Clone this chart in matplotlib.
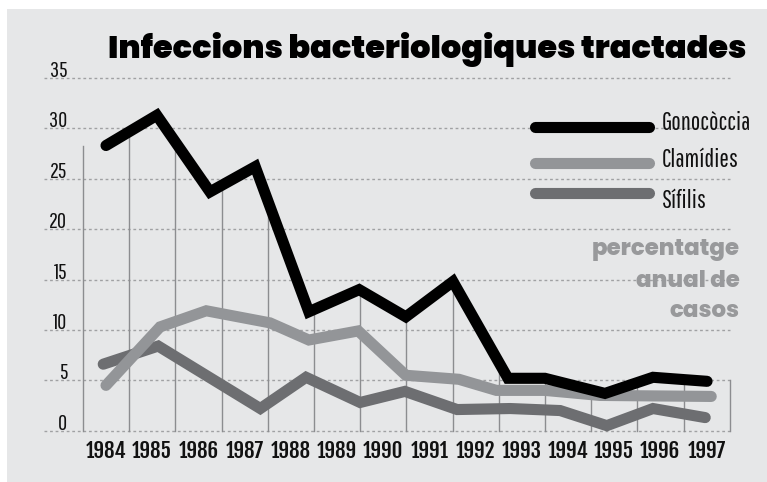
import numpy as np
import matplotlib
matplotlib.use('Agg')
import matplotlib.pyplot as plt

# data (x in year units, points are not exactly on the year centres)
years = list(range(1984, 1998))
yticks = [0, 5, 10, 15, 20, 25, 30, 35]

gono_x = [1984.0, 1985.1, 1986.25, 1987.23, 1988.39, 1989.48, 1990.49, 1991.51, 1992.70, 1993.50, 1994.80, 1995.84, 1997.01]
gono_y = [28.3, 31.3, 23.7, 26.2, 11.8, 14.0, 11.3, 14.8, 5.2, 5.2, 3.7, 5.3, 4.9]

clam_x = [1984.0, 1985.17, 1986.17, 1987.55, 1988.39, 1989.46, 1990.49, 1991.64, 1992.45, 1993.5, 1994.69, 1997.1]
clam_y = [4.5, 10.3, 11.9, 10.7, 9.0, 9.9, 5.5, 5.1, 4.0, 4.0, 3.5, 3.4]

sif_x = [1983.94, 1985.13, 1987.34, 1988.33, 1989.5, 1990.47, 1991.6, 1992.75, 1993.83, 1994.84, 1995.84, 1996.97]
sif_y = [6.6, 8.4, 2.2, 5.3, 2.8, 3.9, 2.1, 2.2, 2.0, 0.5, 2.2, 1.3]

series = [('Sífilis', sif_x, sif_y, '#6d6e71'),
          ('Clamídies', clam_x, clam_y, '#939598'),
          ('Gonocòccia', gono_x, gono_y, '#000000')]

W, H = 767, 482
bg_col = '#e6e7e8'
thin = ['Pathway Gothic One', 'Liberation Sans Narrow', 'DejaVu Sans']
cond_bold = ['Fjalla One', 'Liberation Sans Narrow', 'DejaVu Sans']
heavy = ['Poppins', 'Lato', 'DejaVu Sans']

fig = plt.figure(figsize=(W / 100, H / 100), dpi=100)
fig.patch.set_facecolor('white')
fig.patches.append(plt.Rectangle((7 / W, 0), 1, (H - 9) / H, transform=fig.transFigure,
                                 facecolor=bg_col, edgecolor='none', zorder=-10))

x0, x1 = 1982.658, 1997.5
ax = fig.add_axes([44 / W, (H - 430.7) / H, (729.7 - 44) / W, (430.7 - 78) / H])
ax.set_xlim(x0, x1)
ax.set_ylim(0, 35)
ax.axis('off')

# dotted grid + y labels sitting on the lines
for v in yticks:
    ax.plot([x0, x1], [v, v], color='#a0a1a3', lw=1, ls=(0, (2, 2)), zorder=1, clip_on=False)
    ax.text(x0 + 0.5, v + 0.1, str(v), ha='right', va='baseline', fontsize=16,
            family=thin, color='#111111', zorder=2)

# vertical separators between years, up to the black line
bounds = np.arange(1983.5, 1998, 1.0)
for i, b in enumerate(bounds):
    if i == 0:
        top = gono_y[0]
    elif i == len(bounds) - 1:
        top = 5
    else:
        top = np.interp(b, gono_x, gono_y)
    ax.plot([b, b], [0, top], color='#8c8d90', lw=1, zorder=2, clip_on=False)

for name, xs, ys, col in series:
    ax.plot(xs, ys, color=col, lw=8, solid_capstyle='round', solid_joinstyle='miter',
            zorder=3, clip_on=False)

for yr in years:
    ax.text(yr, -2.0, str(yr), ha='center', va='center', fontsize=15,
            family=cond_bold, color='#111111')

# overlay in pixel coordinates for title, legend and note
ov = fig.add_axes([0, 0, 1, 1])
ov.set_xlim(0, W)
ov.set_ylim(H, 0)
ov.axis('off')
ov.patch.set_alpha(0)

ov.text(747, 58, 'Infeccions bacteriologiques tractades', ha='right', va='baseline',
        fontsize=23, fontweight=900, family=heavy, color='#000000')

leg_y = {'Gonocòccia': 127, 'Clamídies': 163, 'Sífilis': 193}
txt_y = {'Gonocòccia': 123, 'Clamídies': 160, 'Sífilis': 201}
for name, xs, ys, col in series:
    ov.plot([535, 649], [leg_y[name]] * 2, color=col, lw=8, solid_capstyle='round')
    ov.text(662, txt_y[name], name, ha='left', va='center', fontsize=18, family=thin,
            color='#111111')

for line, yb in [('percentatge', 255), ('anual de', 287), ('casos', 317)]:
    ov.text(740, yb, line, ha='right', va='baseline', fontsize=16.5, fontweight=800,
            family=heavy, color='#98999b')

fig.savefig('out.png', dpi=100)
